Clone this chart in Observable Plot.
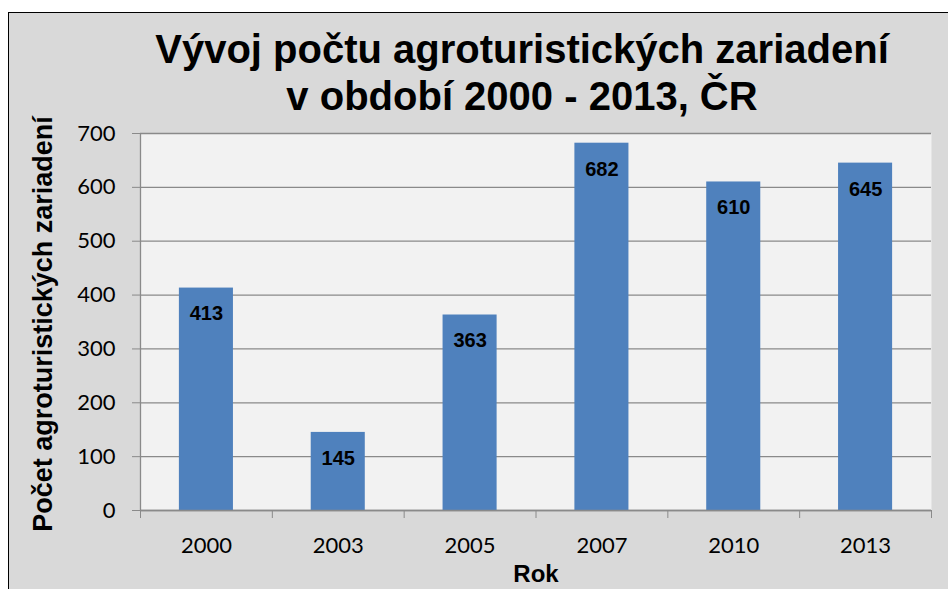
<!DOCTYPE html>
<html>
<head>
<meta charset="utf-8">
<script src="https://cdn.jsdelivr.net/npm/d3@7"></script>
<script src="https://cdn.jsdelivr.net/npm/@observablehq/plot@0.6"></script>
<style>
  html, body { margin: 0; padding: 0; background: #fff; }
  #wrap { position: relative; width: 948px; height: 589px; overflow: hidden; background: #fff; }
  #bg { position: absolute; left: 8px; top: 12px; width: 1100px; height: 700px; background: #d9d9d9; border: 1.5px solid #000; box-sizing: border-box; }
  #title { position: absolute; left: 0; top: 26px; width: 1044px; text-align: center; font-family: "Liberation Sans", Arial, sans-serif; font-weight: bold; font-size: 40px; line-height: 47px; color: #000; }
  #ylabel { position: absolute; left: 43px; top: 324px; transform: translate(-50%, -50%) rotate(-90deg); white-space: nowrap; font-family: "Liberation Sans", Arial, sans-serif; font-weight: bold; font-size: 27px; line-height: 30px; color: #000; }
  #xlabel { position: absolute; left: 536px; top: 562px; transform: translateX(-50%); white-space: nowrap; font-family: "Liberation Sans", Arial, sans-serif; font-weight: bold; font-size: 24px; line-height: 24px; color: #000; }
  #chart { position: absolute; left: 0; top: 0; }
</style>
</head>
<body>
<div id="wrap">
  <div id="bg"></div>
  <div id="title">Vývoj počtu agroturistických zariadení<br>v období 2000 - 2013, ČR</div>
  <div id="chart"></div>
  <div id="ylabel">Počet agroturistických zariadení</div>
  <div id="xlabel">Rok</div>
</div>
<script>
const years = ["2000", "2003", "2005", "2007", "2010", "2013"];
const counts = [413, 145, 363, 682, 610, 645];
const yTicks = [0, 100, 200, 300, 400, 500, 600, 700];

const data = years.map((year, i) => ({ i, year, count: counts[i] }));
const centers = years.map((_, i) => i);
const boundaries = d3.range(years.length + 1).map(k => k - 0.5);
const halfBar = 0.205;

const chart = Plot.plot({
  width: 948,
  height: 589,
  marginTop: 133,
  marginRight: 17,
  marginBottom: 79,
  marginLeft: 140,
  style: { background: "transparent", fontFamily: "Lato, sans-serif", fontSize: "22px", color: "#000", overflow: "visible" },
  x: { domain: [-0.5, years.length - 0.5] },
  y: { domain: [0, 700] },
  marks: [
    Plot.frame({ fill: "#f2f2f2", stroke: null }),
    Plot.gridY(yTicks, { stroke: "#8a8a8a", strokeOpacity: 1, strokeWidth: 1.3 }),
    Plot.rectY(data, { x1: d => d.i - halfBar, x2: d => d.i + halfBar, y: "count", fill: "#4f81bd" }),
    Plot.ruleX([-0.5], { stroke: "#8a8a8a", strokeWidth: 1.3 }),
    Plot.ruleY([0], { stroke: "#8a8a8a", strokeWidth: 1.3 }),
    Plot.axisY(yTicks, { tickSize: 8, tickPadding: 17, stroke: "#8a8a8a", fill: "#000", label: null, fontSize: 22 }),
    Plot.axisX(boundaries, { tickSize: 8, tickFormat: () => "", stroke: "#8a8a8a", label: null }),
    Plot.axisX(centers, { tickSize: 0, tickPadding: 27, tickFormat: i => years[i], fill: "#000", label: null, fontSize: 22 }),
    Plot.text(data, { x: "i", y: "count", text: d => String(d.count), dy: 26, fontWeight: "bold", fontSize: 20, fontFamily: "Liberation Sans, Arial, sans-serif", fill: "#000" })
  ]
});
document.getElementById("chart").appendChild(chart);
</script>
</body>
</html>
